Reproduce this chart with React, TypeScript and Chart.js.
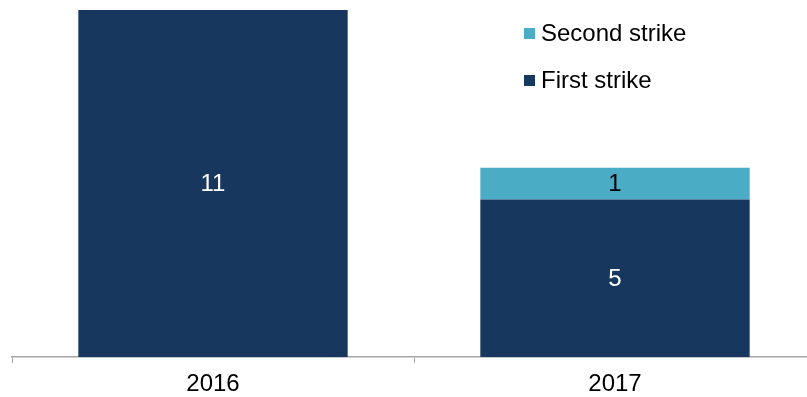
import React, { useEffect, useRef } from "react";
import { Chart, registerables } from "chart.js";

Chart.register(...registerables);

const categories = ["2016", "2017"];
const firstStrike = [11, 5];
const secondStrike = [0, 1];
const seriesNames = ["First strike", "Second strike"];
const colors = ["#17375e", "#4bacc6"];
const labelColors = ["#ffffff", "#000000"];

const FONT = "'Liberation Sans', Arial, sans-serif";

export default function App() {
  const ref = useRef<HTMLCanvasElement | null>(null);

  useEffect(() => {
    document.body.style.margin = "0";
    document.body.style.overflow = "hidden";
    const canvas = ref.current;
    if (!canvas) return;

    const dataLabels = {
      id: "dataLabels",
      afterDatasetsDraw(chart: any) {
        const ctx = chart.ctx;
        ctx.save();
        ctx.font = `24px ${FONT}`;
        ctx.textAlign = "center";
        ctx.textBaseline = "middle";
        chart.data.datasets.forEach((ds: any, di: number) => {
          const meta = chart.getDatasetMeta(di);
          meta.data.forEach((el: any, i: number) => {
            const v = ds.data[i];
            if (!v) return;
            const y = (el.y + el.base) / 2;
            ctx.fillStyle = labelColors[di];
            ctx.fillText(String(v), el.x, y + 1);
          });
        });
        ctx.restore();
      },
    };

    const legendPlugin = {
      id: "customLegend",
      afterDraw(chart: any) {
        const ctx = chart.ctx;
        ctx.save();
        ctx.font = `24px ${FONT}`;
        ctx.textBaseline = "middle";
        ctx.textAlign = "left";
        const items = [1, 0];
        const x = 524;
        items.forEach((di, k) => {
          const y = 33 + k * 47;
          ctx.fillStyle = chart.data.datasets[di].backgroundColor;
          ctx.fillRect(x, y - 5, 11, 11);
          ctx.fillStyle = "#000000";
          ctx.fillText(chart.data.datasets[di].label, x + 17, y + 1);
        });
        ctx.restore();
      },
    };

    const chart = new Chart(canvas, {
      type: "bar",
      data: {
        labels: categories,
        datasets: [
          {
            label: seriesNames[0],
            data: firstStrike,
            backgroundColor: colors[0],
            borderWidth: 0,
            categoryPercentage: 1,
            barPercentage: 0.67,
          },
          {
            label: seriesNames[1],
            data: secondStrike,
            backgroundColor: colors[1],
            borderWidth: 0,
            categoryPercentage: 1,
            barPercentage: 0.67,
          },
        ],
      },
      options: {
        animation: false,
        responsive: false,
        maintainAspectRatio: false,
        layout: { padding: { left: 12, right: 14, top: 10, bottom: 0 } },
        plugins: {
          legend: { display: false },
          tooltip: { enabled: false },
        },
        scales: {
          x: {
            stacked: true,
            offset: true,
            grid: {
              display: true,
              drawOnChartArea: false,
              offset: true,
              tickLength: 6,
              color: "#a6a6a6",
              tickColor: "#a6a6a6",
            },
            border: { display: true, color: "#a6a6a6", width: 1.5 },
            ticks: {
              color: "#000000",
              font: { family: FONT, size: 24 },
              padding: 7,
            },
          },
          y: {
            stacked: true,
            display: false,
            min: 0,
            max: 11,
          },
        },
      },
      plugins: [dataLabels, legendPlugin],
    });

    return () => chart.destroy();
  }, []);

  return (
    <div style={{ width: 830, height: 397, position: "relative", overflow: "hidden" }}>
      <canvas ref={ref} width={830} height={406} style={{ display: "block" }} />
    </div>
  );
}
